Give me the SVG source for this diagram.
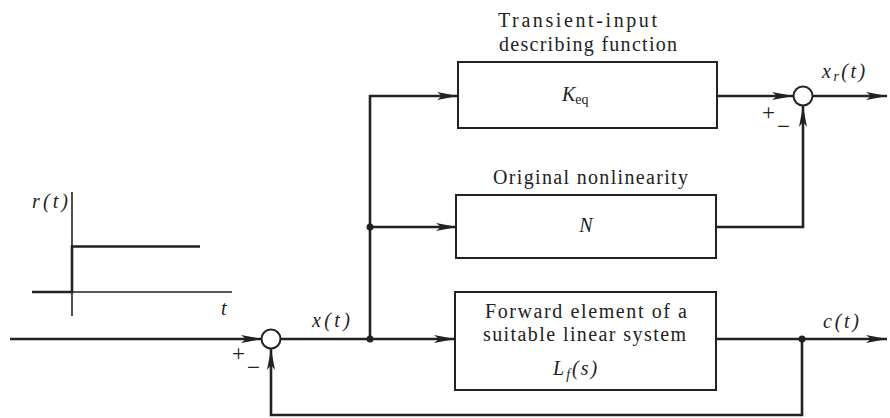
<svg xmlns="http://www.w3.org/2000/svg" width="890" height="418" viewBox="0 0 890 418">
<style>
.ln{fill:none;stroke:#222;stroke-width:2.6}
.ax{fill:none;stroke:#222;stroke-width:1.6}
.bx{fill:#fff;stroke:#222;stroke-width:2}
.sm{fill:#fff;stroke:#222;stroke-width:2}
.t{font-family:"Liberation Serif",serif;font-size:20px;fill:#222}
.s{font-family:"Liberation Serif",serif;font-size:23px;fill:#222}
.i{font-family:"Liberation Serif",serif;font-size:20px;fill:#222;font-style:italic}
.c{text-anchor:middle}
</style>
<defs>
<marker id="ar" markerWidth="22" markerHeight="10" refX="21" refY="5" orient="auto" markerUnits="userSpaceOnUse">
<path d="M0,1 L21,5 L0,9 L5,5 Z" fill="#222"/>
</marker>
</defs>
<g id="step-plot">
<line class="ax" x1="72" y1="192" x2="72" y2="316"/>
<line class="ax" x1="32" y1="292" x2="232" y2="292"/>
<polyline class="ln" points="32,292 72,292 72,246.5 200,246.5"/>
<text class="i" x="32" y="208" textLength="36" lengthAdjust="spacing">r(t)</text>
<text class="i" x="221" y="315">t</text>
</g>
<g id="connectors">
<line class="ln" x1="10" y1="339" x2="262" y2="339" marker-end="url(#ar)"/>
<line class="ln" x1="281" y1="339" x2="455" y2="339" marker-end="url(#ar)"/>
<polyline class="ln" points="370,339 370,96 458,96" marker-end="url(#ar)"/>
<line class="ln" x1="370" y1="227" x2="457" y2="227" marker-end="url(#ar)"/>
<line class="ln" x1="717" y1="96" x2="793" y2="96" marker-end="url(#ar)"/>
<polyline class="ln" points="716,227 803,227 803,106" marker-end="url(#ar)"/>
<line class="ln" x1="813" y1="96" x2="887" y2="96" marker-end="url(#ar)"/>
<line class="ln" x1="716" y1="339" x2="887" y2="339" marker-end="url(#ar)"/>
<polyline class="ln" points="802,339 802,415 271,415 271,349" marker-end="url(#ar)"/>
<circle cx="370" cy="339" r="3.5" fill="#222"/>
<circle cx="370" cy="227" r="3.5" fill="#222"/>
<circle cx="802" cy="339" r="3.5" fill="#222"/>
</g>
<g id="sum1">
<circle class="sm" cx="271" cy="339" r="9.5"/>
<text class="s" x="232" y="361">+</text>
<text class="s" x="247" y="375">−</text>
</g>
<g id="sum2">
<circle class="sm" cx="803" cy="96" r="9.5"/>
<text class="s" x="762" y="120">+</text>
<text class="s" x="777" y="134">−</text>
</g>
<g id="keq">
<text class="t" x="498" y="27" textLength="159" lengthAdjust="spacing">Transient-input</text>
<text class="t" x="499" y="51" textLength="178" lengthAdjust="spacing">describing function</text>
<rect class="bx" x="458" y="62" width="259" height="66"/>
<text class="i" x="562" y="101">K<tspan font-size="14" font-style="normal" dy="3">eq</tspan></text>
</g>
<g id="nonlin">
<text class="t" x="493" y="184" textLength="195" lengthAdjust="spacing">Original nonlinearity</text>
<rect class="bx" x="456" y="195" width="260" height="63"/>
<text class="i c" x="586" y="232">N</text>
</g>
<g id="forward">
<rect class="bx" x="455" y="292" width="261" height="98"/>
<text class="t" x="485" y="318" textLength="202" lengthAdjust="spacing">Forward element of a</text>
<text class="t" x="483" y="341" textLength="203" lengthAdjust="spacing">suitable linear system</text>
<text class="i" x="553" y="375" letter-spacing="2">L<tspan font-size="14" dy="4">f</tspan><tspan dy="-4">(s)</tspan></text>
</g>
<g id="labels">
<text class="i" x="312" y="327" textLength="38" lengthAdjust="spacing">x(t)</text>
<text class="i" x="822" y="78" letter-spacing="2.5">x<tspan font-size="14" dy="3">r</tspan><tspan dy="-3">(t)</tspan></text>
<text class="i" x="823" y="328" textLength="36" lengthAdjust="spacing">c(t)</text>
</g>
</svg>
